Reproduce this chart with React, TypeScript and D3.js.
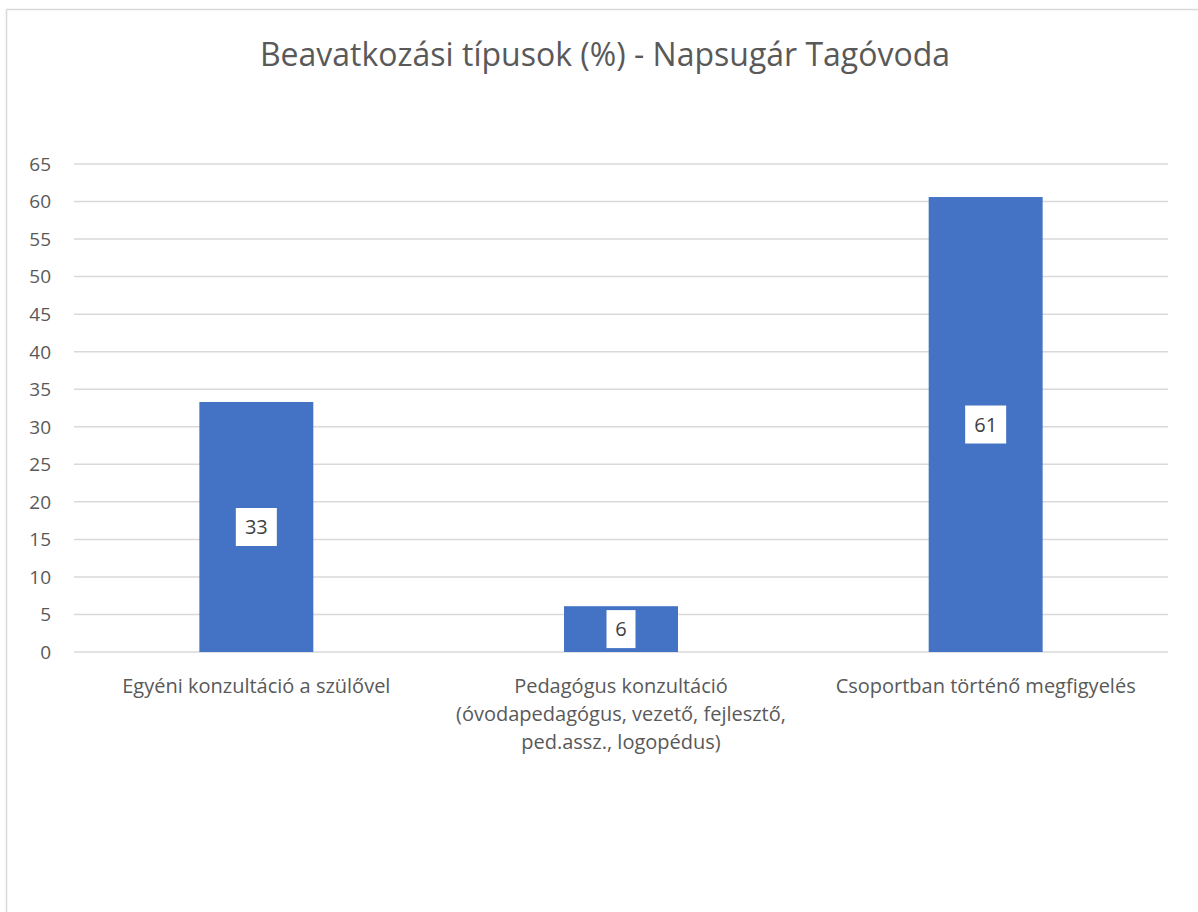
import React from "react";
import * as d3 from "d3";

const title = "Beavatkozási típusok (%) - Napsugár Tagóvoda";
const categories = [
  ["Egyéni konzultáció a szülővel"],
  ["Pedagógus konzultáció", "(óvodapedagógus, vezető, fejlesztő,", "ped.assz., logopédus)"],
  ["Csoportban történő megfigyelés"],
];
const values = [33.3, 6.1, 60.6];
const yTicks = [0, 5, 10, 15, 20, 25, 30, 35, 40, 45, 50, 55, 60, 65];

const W = 1198;
const H = 912;
const plotLeft = 74;
const plotRight = 1168;
const plotTop = 164;
const plotBottom = 652;
const font = "'Open Sans', 'Noto Sans', sans-serif";

export default function App() {
  const x = d3
    .scaleBand<number>()
    .domain(values.map((_, i) => i))
    .range([plotLeft, plotRight])
    .paddingInner(0.6875)
    .paddingOuter(0.34375);
  const y = d3.scaleLinear().domain([0, 65]).range([plotBottom, plotTop]);
  const fmt = d3.format(".0f");

  return (
    <svg
      width={W}
      height={H}
      style={{ position: "absolute", left: 0, top: 0, background: "#fff" }}
      fontFamily={font}
    >
      <rect x={0} y={0} width={W} height={H} fill="#fff" />
      <line x1={6.5} y1={9.5} x2={W} y2={9.5} stroke="#d9d9d9" strokeWidth={1.5} />
      <line x1={6.5} y1={9.5} x2={6.5} y2={H} stroke="#d9d9d9" strokeWidth={1.5} />

      <text x={605} y={66} textAnchor="middle" fontSize={32} fill="#595959">
        {title}
      </text>

      {yTicks.map((t) => (
        <g key={t}>
          <line
            x1={plotLeft}
            x2={plotRight}
            y1={y(t)}
            y2={y(t)}
            stroke="#d9d9d9"
            strokeWidth={1.5}
          />
          <text
            x={51}
            y={y(t)}
            dy="0.36em"
            textAnchor="end"
            fontSize={19}
            fill="#595959"
          >
            {t}
          </text>
        </g>
      ))}

      {values.map((v, i) => {
        const bx = x(i)!;
        const bw = x.bandwidth();
        const top = y(v);
        const cy = (top + y(0)) / 2;
        const label = fmt(v);
        const boxW = label.length * 12 + 17;
        return (
          <g key={i}>
            <rect x={bx} y={top} width={bw} height={y(0) - top} fill="#4472c4" />
            <rect x={bx + bw / 2 - boxW / 2} y={cy - 19} width={boxW} height={38} fill="#fff" />
            <text
              x={bx + bw / 2}
              y={cy}
              dy="0.36em"
              textAnchor="middle"
              fontSize={20}
              fill="#404040"
            >
              {label}
            </text>
          </g>
        );
      })}

      {categories.map((lines, i) => (
        <text
          key={i}
          x={x(i)! + x.bandwidth() / 2}
          y={686}
          textAnchor="middle"
          fontSize={20}
          fill="#595959"
        >
          {lines.map((l, j) => (
            <tspan key={j} x={x(i)! + x.bandwidth() / 2} dy={j === 0 ? "0.36em" : 28}>
              {l}
            </tspan>
          ))}
        </text>
      ))}
    </svg>
  );
}
